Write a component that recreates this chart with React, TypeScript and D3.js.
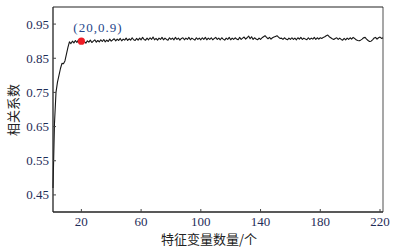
import React from "react";
import * as d3 from "d3";

const featureCounts: number[] = Array.from({ length: 222 }, (_, i) => i + 1);
const correlation: number[] = [
  0.47, 0.66, 0.75, 0.78, 0.80, 0.82, 0.835, 0.834, 0.842, 0.862,
  0.882, 0.898, 0.893, 0.900, 0.895, 0.902, 0.896, 0.903, 0.897, 0.900,
  0.896, 0.899, 0.894, 0.901, 0.897, 0.903, 0.896, 0.900, 0.904, 0.897,
  0.902, 0.898, 0.904, 0.899, 0.905, 0.898, 0.903, 0.899, 0.906, 0.900,
  0.904, 0.907, 0.901, 0.906, 0.902, 0.908, 0.901, 0.906, 0.903, 0.909,
  0.902, 0.907, 0.903, 0.910, 0.904, 0.902, 0.908, 0.903, 0.909, 0.904,
  0.911, 0.905, 0.903, 0.909, 0.904, 0.910, 0.905, 0.912, 0.904, 0.908,
  0.903, 0.909, 0.905, 0.911, 0.904, 0.909, 0.905, 0.903, 0.910, 0.905,
  0.909, 0.904, 0.911, 0.905, 0.909, 0.903, 0.908, 0.910, 0.904, 0.909,
  0.905, 0.911, 0.904, 0.909, 0.906, 0.903, 0.910, 0.905, 0.909, 0.904,
  0.910, 0.905, 0.911, 0.904, 0.909, 0.905, 0.910, 0.904, 0.908, 0.911,
  0.905, 0.909, 0.904, 0.910, 0.906, 0.903, 0.909, 0.905, 0.911, 0.904,
  0.909, 0.905, 0.910, 0.906, 0.904, 0.911, 0.905, 0.909, 0.912, 0.906,
  0.910, 0.915, 0.907, 0.913, 0.905, 0.910, 0.906, 0.904, 0.909, 0.905,
  0.910, 0.913, 0.916, 0.911, 0.907, 0.911, 0.906, 0.910, 0.912, 0.914,
  0.916, 0.912, 0.908, 0.909, 0.905, 0.910, 0.906, 0.904, 0.909, 0.905,
  0.910, 0.905, 0.909, 0.904, 0.910, 0.906, 0.911, 0.905, 0.909, 0.906,
  0.904, 0.910, 0.905, 0.909, 0.906, 0.911, 0.905, 0.910, 0.906, 0.910,
  0.908, 0.911, 0.913, 0.916, 0.918, 0.913, 0.910, 0.907, 0.905, 0.908,
  0.910, 0.905, 0.909, 0.905, 0.903, 0.908, 0.904, 0.909, 0.905, 0.910,
  0.906, 0.911, 0.908, 0.904, 0.902, 0.901, 0.903, 0.906, 0.910, 0.911,
  0.906, 0.902, 0.899, 0.900, 0.904, 0.909, 0.911, 0.906, 0.910, 0.912,
  0.908, 0.910,
];
const xTicks: number[] = [20, 60, 100, 140, 180, 220];
const yTicks: number[] = [0.45, 0.55, 0.65, 0.75, 0.85, 0.95];
const highlight = { x: 20, y: 0.9, label: "(20,0.9)" };
const xTitle = "特征变量数量/个";
const yTitle = "相关系数";

const W = 400;
const H = 251;
const M = { left: 53, right: 383, top: 7, bottom: 212 };

export default function App() {
  const x = d3.scaleLinear().domain([1, 222]).range([M.left, M.right]);
  const y = d3.scaleLinear().domain([0.4, 1.0]).range([M.bottom, M.top]);
  const line = d3
    .line<number>()
    .x((_, i) => x(featureCounts[i]))
    .y((d) => y(d));
  const numFont = "'Liberation Serif', 'DejaVu Serif', serif";
  const cjkFont = "'Noto Sans CJK SC', sans-serif";
  const labelColor = "#1f2d58";

  return (
    <svg
      width={W}
      height={H}
      style={{ position: "absolute", left: 0, top: 0, background: "#fff" }}
    >
      <rect x={0} y={0} width={W} height={H} fill="#fff" />
      <line x1={M.right} x2={M.right} y1={M.top} y2={M.bottom} stroke="#8a8a8a" strokeWidth={1.5} />
      <line x1={M.left} x2={M.right} y1={M.top} y2={M.top} stroke="#222" strokeWidth={1.2} />
      <path d={line(correlation) || ""} fill="none" stroke="#161616" strokeWidth={1.1} strokeLinejoin="round" />
      <line x1={M.left} x2={M.left} y1={M.top} y2={M.bottom} stroke="#222" strokeWidth={1.3} />
      <line x1={M.left} x2={M.right} y1={M.bottom} y2={M.bottom} stroke="#222" strokeWidth={1.3} />
      {yTicks.map((t) => (
        <g key={"y" + t}>
          <line x1={M.left} x2={M.left + 3} y1={y(t)} y2={y(t)} stroke="#444" strokeWidth={1} />
          <text
            x={M.left - 4}
            y={y(t)}
            dy="0.35em"
            textAnchor="end"
            fontFamily={numFont}
            fontSize={13}
            fill={labelColor}
          >
            {t.toFixed(2)}
          </text>
        </g>
      ))}
      {xTicks.map((t) => (
        <g key={"x" + t}>
          <line x1={x(t)} x2={x(t)} y1={M.bottom} y2={M.bottom - 3} stroke="#444" strokeWidth={1} />
          <text
            x={x(t)}
            y={226}
            textAnchor="middle"
            fontFamily={numFont}
            fontSize={13}
            fill={labelColor}
          >
            {t}
          </text>
        </g>
      ))}
      <circle cx={x(highlight.x)} cy={y(highlight.y)} r={3.6} fill="#ee1c25" />
      <text
        x={x(highlight.x) - 8}
        y={32}
        fontFamily={numFont}
        fontSize={13}
        letterSpacing={1}
        fill="#24468a"
      >
        {highlight.label}
      </text>
      <text
        x={209}
        y={244}
        textAnchor="middle"
        fontFamily={cjkFont}
        fontSize={13}
        fill="#222"
      >
        {xTitle}
      </text>
      <text
        transform={`translate(18,110) rotate(-90)`}
        textAnchor="middle"
        fontFamily={cjkFont}
        fontSize={13}
        fill="#222"
      >
        {yTitle}
      </text>
    </svg>
  );
}
